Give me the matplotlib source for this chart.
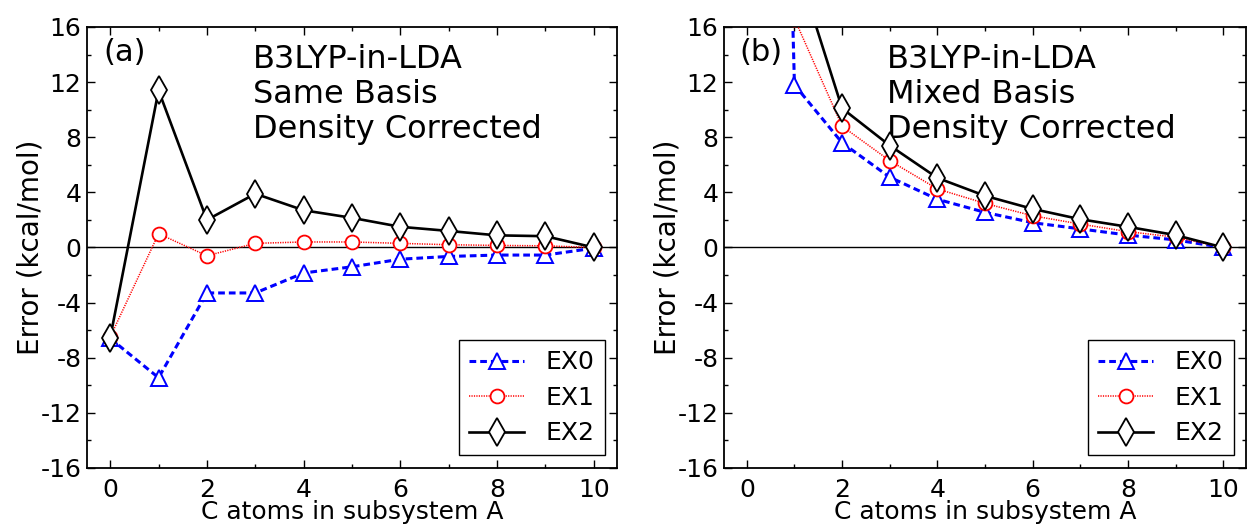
import matplotlib
matplotlib.use("Agg")
import matplotlib.pyplot as plt
from matplotlib.ticker import MultipleLocator

plt.rcParams['font.family'] = ['DejaVu Sans']
plt.rcParams['axes.unicode_minus'] = False

x = list(range(11))

# Panel (a): Same Basis
a_ex0 = [-6.6, -9.45, -3.3, -3.3, -1.85, -1.4, -0.85, -0.65, -0.55, -0.55, -0.05]
a_ex1 = [-6.5, 1.0, -0.6, 0.3, 0.4, 0.4, 0.3, 0.2, 0.15, 0.12, 0.0]
a_ex2 = [-6.55, 11.4, 2.0, 3.9, 2.7, 2.15, 1.5, 1.2, 0.88, 0.82, 0.0]

# Panel (b): Mixed Basis (x=0 values and EX1/EX2 at x=1 lie beyond the axis top)
b_ex0 = [140.0, 11.8, 7.6, 5.1, 3.5, 2.55, 1.8, 1.35, 0.9, 0.55, 0.0]
b_ex1 = [150.0, 16.6, 8.8, 6.3, 4.25, 3.2, 2.3, 1.7, 1.15, 0.75, 0.0]
b_ex2 = [160.0, 21.0, 10.1, 7.4, 5.05, 3.75, 2.8, 2.05, 1.5, 0.9, 0.0]

series_labels = ["EX0", "EX1", "EX2"]
panel_tags = ["(a)", "(b)"]
panel_texts = ["B3LYP-in-LDA\nSame Basis\nDensity Corrected",
               "B3LYP-in-LDA\nMixed Basis\nDensity Corrected"]
xlabel = "C atoms in subsystem A"
ylabel = "Error (kcal/mol)"

FS = 18

fig = plt.figure(figsize=(12.48, 5.25), dpi=100)
axa = fig.add_axes([0.0697, 0.1086, 0.4247, 0.84])
axb = fig.add_axes([0.5801, 0.1086, 0.4183, 0.84])

for ax, data, tag, txt in [(axa, (a_ex0, a_ex1, a_ex2), panel_tags[0], panel_texts[0]),
                           (axb, (b_ex0, b_ex1, b_ex2), panel_tags[1], panel_texts[1])]:
    ex0, ex1, ex2 = data
    ax.axhline(0, color='black', lw=1.0, zorder=1)
    ax.plot(x, ex0, color='blue', ls=(0, (2.2, 1.3)), lw=2.2, marker='^', ms=11,
            mfc='white', mec='blue', mew=1.4, label=series_labels[0], zorder=2)
    ax.plot(x, ex1, color='red', ls=(0, (0.8, 0.8)), lw=1.1, marker='o', ms=10,
            mfc='white', mec='red', mew=1.3, label=series_labels[1], zorder=3)
    ax.plot(x, ex2, color='black', ls='-', lw=1.9, marker='d', ms=14,
            mfc='white', mec='black', mew=1.3, label=series_labels[2], zorder=4)
    ax.set_xlim(-0.48, 10.48)
    ax.set_ylim(-16, 16)
    ax.xaxis.set_major_locator(MultipleLocator(2))
    ax.xaxis.set_minor_locator(MultipleLocator(1))
    ax.yaxis.set_major_locator(MultipleLocator(4))
    ax.yaxis.set_minor_locator(MultipleLocator(2))
    ax.tick_params(which='both', direction='in', top=True, right=True, labelsize=FS)
    ax.tick_params(which='major', length=6, width=1)
    ax.tick_params(axis='y', which='major', pad=4)
    ax.tick_params(axis='x', which='major', pad=7)
    ax.tick_params(which='minor', length=3, width=1)
    for s in ax.spines.values():
        s.set_linewidth(1.3)
    ax.set_xlabel(xlabel, fontsize=FS, labelpad=-1)
    ax.set_ylabel(ylabel, fontsize=20, labelpad=-3)
    ax.text(0.03, 0.975, tag, transform=ax.transAxes, fontsize=22,
            va='top', ha='left')
    ax.text(0.313, 0.962, txt, transform=ax.transAxes, fontsize=23,
            va='top', ha='left', linespacing=1.17)
    leg = ax.legend(loc='lower right', fontsize=FS, handlelength=2.2,
                    fancybox=False, framealpha=1, borderpad=0.4,
                    labelspacing=0.46, handletextpad=0.85)
    leg.get_frame().set_edgecolor('black')
    leg.get_frame().set_linewidth(1.0)

fig.savefig("out.png", dpi=100)
